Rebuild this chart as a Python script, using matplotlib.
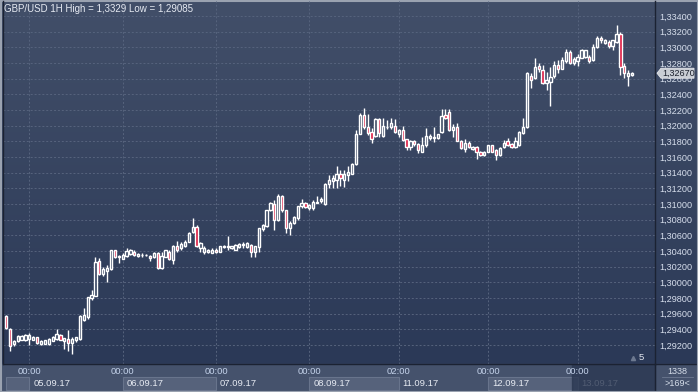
import numpy as np
import matplotlib.pyplot as plt
import matplotlib.transforms as mtransforms
from matplotlib.patches import Rectangle, Polygon

plt.rcParams['font.family'] = ['Liberation Sans', 'DejaVu Sans']

# GBP/USD 1H candles
opens = [1.2957, 1.2940, 1.2921, 1.2925, 1.2927, 1.2927, 1.2928, 1.2927, 1.2930, 1.2921,
         1.2922, 1.2922, 1.2925, 1.2928, 1.2933, 1.2925, 1.2928, 1.2923, 1.2926, 1.2928,
         1.2952, 1.2956, 1.2980, 1.2983, 1.3028, 1.3011, 1.3015, 1.3017, 1.3041, 1.3032,
         1.3030, 1.3034, 1.3036, 1.3039, 1.3034, 1.3035, 1.3035, 1.3034, 1.3032, 1.3038,
         1.3018, 1.3033, 1.3039, 1.3029, 1.3047, 1.3044, 1.3047, 1.3052, 1.3065, 1.3071,
         1.3044, 1.3039, 1.3039, 1.3038, 1.3042, 1.3039, 1.3045, 1.3045, 1.3044, 1.3042,
         1.3045, 1.3048, 1.3045, 1.3048, 1.3039, 1.3045, 1.3068, 1.3072, 1.3093, 1.3100,
         1.3080, 1.3110, 1.3093, 1.3069, 1.3076, 1.3082, 1.3098, 1.3101, 1.3095, 1.3095,
         1.3102, 1.3104, 1.3100, 1.3126, 1.3129, 1.3131, 1.3138, 1.3131, 1.3137, 1.3139,
         1.3151, 1.3190, 1.3214, 1.3198, 1.3192, 1.3187, 1.3208, 1.3187, 1.3198, 1.3198,
         1.3200, 1.3190, 1.3195, 1.3183, 1.3173, 1.3181, 1.3177, 1.3167, 1.3175, 1.3184,
         1.3184, 1.3184, 1.3192, 1.3214, 1.3218, 1.3194, 1.3198, 1.3181, 1.3170, 1.3178,
         1.3170, 1.3173, 1.3167, 1.3163, 1.3167, 1.3175, 1.3169, 1.3163, 1.3173, 1.3180,
         1.3177, 1.3173, 1.3175, 1.3191, 1.3198, 1.3263, 1.3261, 1.3276, 1.3271, 1.3255,
         1.3256, 1.3263, 1.3278, 1.3273, 1.3282, 1.3294, 1.3280, 1.3282, 1.3287, 1.3288,
         1.3288, 1.3284, 1.3300, 1.3312, 1.3305, 1.3307, 1.3302, 1.3307, 1.3317, 1.3276,
         1.3263, 1.3265]
highs = [1.2959, 1.2942, 1.2927, 1.2933, 1.2933, 1.2934, 1.2935, 1.2932, 1.2931, 1.2926,
         1.2927, 1.2929, 1.2932, 1.2940, 1.2934, 1.2929, 1.2939, 1.2931, 1.2931, 1.2958,
         1.2967, 1.2982, 1.2991, 1.3033, 1.3031, 1.3020, 1.3022, 1.3042, 1.3042, 1.3035,
         1.3037, 1.3044, 1.3043, 1.3041, 1.3037, 1.3038, 1.3036, 1.3035, 1.3039, 1.3039,
         1.3039, 1.3042, 1.3041, 1.3048, 1.3053, 1.3052, 1.3054, 1.3065, 1.3082, 1.3073,
         1.3052, 1.3046, 1.3043, 1.3044, 1.3044, 1.3047, 1.3048, 1.3059, 1.3047, 1.3049,
         1.3050, 1.3051, 1.3051, 1.3049, 1.3047, 1.3070, 1.3074, 1.3093, 1.3103, 1.3105,
         1.3113, 1.3112, 1.3093, 1.3078, 1.3085, 1.3098, 1.3106, 1.3103, 1.3100, 1.3105,
         1.3110, 1.3109, 1.3127, 1.3137, 1.3137, 1.3149, 1.3143, 1.3143, 1.3148, 1.3152,
         1.3195, 1.3216, 1.3222, 1.3215, 1.3197, 1.3210, 1.3210, 1.3210, 1.3207, 1.3210,
         1.3209, 1.3196, 1.3200, 1.3183, 1.3182, 1.3182, 1.3178, 1.3186, 1.3197, 1.3190,
         1.3198, 1.3190, 1.3221, 1.3221, 1.3221, 1.3202, 1.3204, 1.3182, 1.3183, 1.3181,
         1.3174, 1.3174, 1.3168, 1.3168, 1.3176, 1.3176, 1.3170, 1.3173, 1.3182, 1.3184,
         1.3178, 1.3186, 1.3193, 1.3210, 1.3269, 1.3267, 1.3287, 1.3280, 1.3278, 1.3269,
         1.3275, 1.3282, 1.3284, 1.3288, 1.3298, 1.3297, 1.3288, 1.3292, 1.3298, 1.3297,
         1.3290, 1.3304, 1.3315, 1.3315, 1.3311, 1.3309, 1.3309, 1.3329, 1.3319, 1.3280,
         1.3271, 1.3269]
lows = [1.2940, 1.2912, 1.2919, 1.2924, 1.2926, 1.2925, 1.2920, 1.2926, 1.2922, 1.2920,
        1.2921, 1.2920, 1.2925, 1.2927, 1.2926, 1.2915, 1.2912, 1.29085, 1.2924, 1.2926,
        1.2951, 1.2954, 1.2978, 1.2983, 1.3010, 1.3008, 1.3000, 1.3016, 1.3031, 1.3025,
        1.3030, 1.3033, 1.3035, 1.3034, 1.3032, 1.3033, 1.3034, 1.3027, 1.3031, 1.3017,
        1.3017, 1.3032, 1.3029, 1.3024, 1.3039, 1.3042, 1.3045, 1.3051, 1.3063, 1.3045,
        1.3039, 1.3036, 1.3037, 1.3037, 1.3038, 1.3039, 1.3044, 1.3041, 1.3043, 1.3041,
        1.3044, 1.3044, 1.3044, 1.3033, 1.3033, 1.3039, 1.3066, 1.3071, 1.3091, 1.3067,
        1.3078, 1.3090, 1.3063, 1.3061, 1.3074, 1.3080, 1.3095, 1.3095, 1.3093, 1.3093,
        1.3101, 1.3102, 1.3099, 1.3121, 1.3121, 1.3121, 1.3123, 1.3122, 1.3129, 1.3138,
        1.3150, 1.3190, 1.3196, 1.3188, 1.3178, 1.3186, 1.3186, 1.3186, 1.3196, 1.3196,
        1.3191, 1.3186, 1.3181, 1.3169, 1.3169, 1.3174, 1.3165, 1.3166, 1.3173, 1.3182,
        1.3179, 1.3183, 1.3191, 1.3209, 1.3193, 1.3186, 1.3180, 1.3170, 1.3167, 1.3172,
        1.3169, 1.3158, 1.3161, 1.3161, 1.3166, 1.3166, 1.3156, 1.3161, 1.3172, 1.3174,
        1.3172, 1.3172, 1.3174, 1.3189, 1.3197, 1.3248, 1.3259, 1.3269, 1.3253, 1.3245,
        1.3225, 1.3261, 1.3267, 1.3272, 1.3280, 1.3279, 1.3278, 1.3276, 1.3286, 1.3286,
        1.3280, 1.3283, 1.3299, 1.3305, 1.3304, 1.3299, 1.3297, 1.3305, 1.3265, 1.3261,
        1.3251, 1.3264]
closes = [1.2942, 1.2919, 1.2925, 1.2932, 1.2932, 1.2933, 1.2933, 1.2931, 1.2923, 1.2925,
          1.2927, 1.2928, 1.2931, 1.2934, 1.2927, 1.2929, 1.2923, 1.2928, 1.2930, 1.2957,
          1.2959, 1.2981, 1.2984, 1.3026, 1.3011, 1.3017, 1.3019, 1.3041, 1.3032, 1.3034,
          1.3035, 1.3040, 1.3041, 1.3035, 1.3036, 1.30355, 1.30355, 1.3031, 1.3038, 1.3018,
          1.3034, 1.3041, 1.3030, 1.3047, 1.3042, 1.3049, 1.3052, 1.3063, 1.3071, 1.3047,
          1.3050, 1.3044, 1.3041, 1.3042, 1.3039, 1.3046, 1.3047, 1.3047, 1.3046, 1.3048,
          1.3049, 1.30485, 1.3050, 1.3039, 1.3047, 1.3069, 1.3073, 1.3093, 1.3101, 1.3080,
          1.3110, 1.3093, 1.3069, 1.3076, 1.3084, 1.3098, 1.3101, 1.3096, 1.3099, 1.3103,
          1.3103, 1.3106, 1.3126, 1.3131, 1.3133, 1.3138, 1.3133, 1.3138, 1.3141, 1.3151,
          1.3190, 1.3214, 1.3199, 1.3191, 1.3183, 1.3208, 1.3191, 1.3200, 1.3199, 1.3203,
          1.3192, 1.3195, 1.3182, 1.3173, 1.3181, 1.3177, 1.3169, 1.3175, 1.3187, 1.3187,
          1.3186, 1.3189, 1.3212, 1.3210, 1.3194, 1.3199, 1.3181, 1.3171, 1.3178, 1.3173,
          1.3173, 1.3166, 1.3163, 1.3167, 1.3175, 1.3167, 1.3163, 1.3172, 1.3178, 1.3175,
          1.3173, 1.3180, 1.3192, 1.3198, 1.3267, 1.3258, 1.3275, 1.3272, 1.3255, 1.3258,
          1.3262, 1.3278, 1.3272, 1.3284, 1.3294, 1.3280, 1.3285, 1.3288, 1.3296, 1.3296,
          1.3283, 1.3301, 1.3312, 1.3309, 1.3309, 1.3302, 1.3309, 1.3317, 1.3275, 1.3267,
          1.3267, 1.3267]

day_ticks = [6, 30, 54, 78, 101, 124, 147]
time_labels = ['00:00', '00:00', '00:00', '00:00', '02:00', '00:00', '00:00']
date_labels = ['05.09.17', '06.09.17', '07.09.17', '08.09.17', '11.09.17', '12.09.17', '13.09.17']
price_ticks = np.arange(1.292, 1.3341, 0.002)

W, H = 698, 392
fig = plt.figure(figsize=(W / 100, H / 100), dpi=100)
fig.patch.set_facecolor('#3f4c66')

# background layer in pixel units
bg = fig.add_axes([0, 0, 1, 1])
bg.set_xlim(0, W)
bg.set_ylim(H, 0)
bg.axis('off')
top = np.array([0x42, 0x4f, 0x69]) / 255
bot = np.array([0x2b, 0x39, 0x57]) / 255
t = np.linspace(0, 1, 256)[:, None, None]
bg.imshow(top + (bot - top) * t, extent=(0, W, 364, 0), aspect='auto', zorder=0)
bg.add_patch(Rectangle((0, 364), W, 28, color='#45526c', zorder=1))

ax = fig.add_axes([3 / W, (H - 364) / H, (655 - 3) / W, (364 - 1) / H])
ax.patch.set_alpha(0)
n = len(closes)
ax.set_xlim(-0.77, 166.9)
ax.set_ylim(1.289595, 1.335914)

x = np.arange(n)
o = np.array(opens); c = np.array(closes)
hi = np.array(highs); lo = np.array(lows)
body_top = np.maximum(o, c)
body_bot = np.minimum(o, c)
ax.vlines(x, body_top, hi, color='white', lw=1.0, zorder=3)
ax.vlines(x, lo, body_bot, color='white', lw=1.0, zorder=3)
for i in range(n):
    up = c[i] >= o[i]
    ax.add_patch(Rectangle((i - 0.29, body_bot[i]), 0.58, max(body_top[i] - body_bot[i], 1e-6),
                           facecolor='none' if up else '#dc143c', edgecolor='white',
                           lw=1.0, zorder=4))

ax.set_yticks(price_ticks)
ax.set_yticklabels([f'{v:.5f}'.replace('.', ',') for v in price_ticks])
ax.yaxis.tick_right()
ax.set_xticks(day_ticks)
ax.set_xticklabels(time_labels)
ax.tick_params(axis='y', length=0, pad=3, labelsize=6.6, labelcolor='#d6deec')
ax.tick_params(axis='x', length=0, pad=2.5, labelsize=6.8, labelcolor='#c4d2ea')
ax.grid(True, color='#56637d', linestyle=(0, (2, 2)), lw=0.7)
ax.set_axisbelow(True)
for s in ['left', 'bottom', 'right']:
    ax.spines[s].set_color('#1b2232')
    ax.spines[s].set_linewidth(1)
ax.spines['top'].set_visible(False)

ax.text(0.002, 0.977, 'GBP/USD 1H High = 1,3329 Low = 1,29085', transform=ax.transAxes,
        fontsize=7, color='#e6eaf2', va='center', ha='left')

# date boxes under the time axis
xb = mtransforms.blended_transform_factory(ax.transData, bg.transData)
shaded = [(0, 6), (30, 54), (78, 101), (124, 147)]
for a, b in shaded:
    bg.add_patch(Rectangle((a, 377), b - a, 13, transform=xb, facecolor='#56627b',
                           edgecolor='#68748c', lw=0.8, zorder=2))
for tk, d in zip(day_ticks, date_labels):
    bg.text(tk + 1, 383.5, d, transform=xb, fontsize=6.8, color='#e6eaf2',
            va='center', ha='left', zorder=3)
bg.add_patch(Rectangle((572, 364), 83, 28, color='#2b3852', alpha=0.8, zorder=4))

# frame lines
bg.plot([655, 655], [364, H], color='#1b2232', lw=1, zorder=5)
bg.plot([655, W], [364, 364], color='#1b2232', lw=1, zorder=5)
bg.add_patch(Rectangle((0.5, 0.5), W - 1, H - 1, fill=False, ec='#9aa2b0', lw=1.5, zorder=6))

# bottom-right counters
bg.text(677, 371, '1338', fontsize=6.5, color='#d5dde9', ha='center', va='center', zorder=5)
bg.plot([662, 693], [377, 377], color='#6d7990', lw=0.6, zorder=5)
bg.text(677, 384, '>169<', fontsize=6.5, color='#d5dde9', ha='center', va='center', zorder=5)
bg.text(641, 357, '5', fontsize=6.8, color='#e6eaf2', ha='center', va='center', zorder=5)
bg.plot([633], [358], marker='^', ms=3, color='#6d7990', zorder=5)

# current price label
last = closes[-1]
px = (ax.get_ylim()[1] - ax.get_ylim()[0]) / 363
yb = mtransforms.blended_transform_factory(bg.transData, ax.transData)
ax.add_patch(Polygon([(657, last), (661, last + 5 * px), (694, last + 5 * px),
                      (694, last - 5 * px), (661, last - 5 * px)], closed=True,
                     transform=yb, fc='#c9cdd4', ec='#e6e8ec', lw=0.6, clip_on=False, zorder=6))
ax.text(662, last, f'{last:.5f}'.replace('.', ','), transform=yb, fontsize=6.5,
        color='#1a1f2b', va='center', ha='left', zorder=7, clip_on=False)

fig.savefig('out.png', dpi=100, facecolor=fig.get_facecolor())
